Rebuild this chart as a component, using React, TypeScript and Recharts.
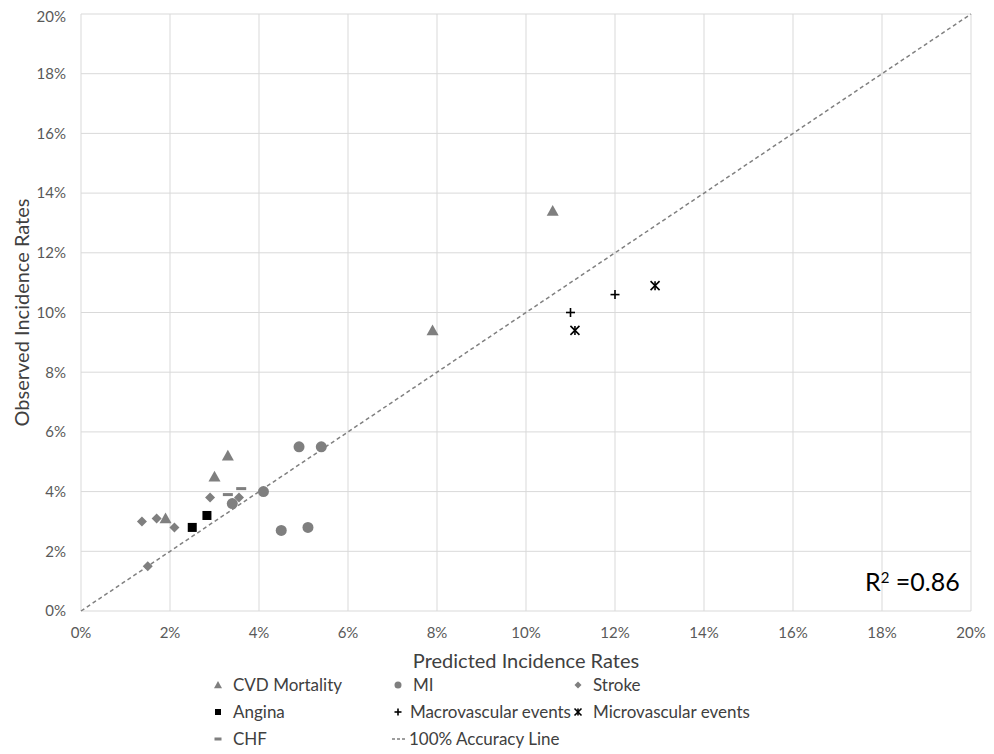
import React from 'react';
import {
  ScatterChart,
  Scatter,
  XAxis,
  YAxis,
  CartesianGrid,
  ReferenceLine,
  Legend,
} from 'recharts';

// values are fractions (0.05 = 5%)
const cvdMortality = [
  { x: 0.106, y: 0.134 },
  { x: 0.079, y: 0.094 },
  { x: 0.033, y: 0.052 },
  { x: 0.030, y: 0.045 },
  { x: 0.019, y: 0.031 },
];
const mi = [
  { x: 0.049, y: 0.055 },
  { x: 0.054, y: 0.055 },
  { x: 0.041, y: 0.040 },
  { x: 0.034, y: 0.036 },
  { x: 0.045, y: 0.027 },
  { x: 0.051, y: 0.028 },
];
const stroke = [
  { x: 0.0137, y: 0.030 },
  { x: 0.017, y: 0.031 },
  { x: 0.021, y: 0.028 },
  { x: 0.029, y: 0.038 },
  { x: 0.0355, y: 0.038 },
  { x: 0.015, y: 0.015 },
];
const angina = [
  { x: 0.025, y: 0.028 },
  { x: 0.0283, y: 0.032 },
];
const chf = [
  { x: 0.033, y: 0.039 },
  { x: 0.036, y: 0.041 },
];
const macrovascular = [
  { x: 0.110, y: 0.100 },
  { x: 0.120, y: 0.106 },
];
const microvascular = [
  { x: 0.111, y: 0.094 },
  { x: 0.129, y: 0.109 },
];
const accuracyLine = [
  { x: 0, y: 0 },
  { x: 0.2, y: 0.2 },
];
const ticks = [0, 0.02, 0.04, 0.06, 0.08, 0.1, 0.12, 0.14, 0.16, 0.18, 0.2];
const rSquared = '0.86';

const GRAY = '#7f7f7f';
const FONT = 'Lato, "Open Sans", sans-serif';

const pct = (v: number) => `${Math.round(v * 100)}%`;

const Triangle = ({ cx, cy, s = 6 }: any) => (
  <polygon points={`${cx},${cy - s} ${cx + s},${cy + s * 0.8} ${cx - s},${cy + s * 0.8}`} fill={GRAY} />
);
const Circle = ({ cx, cy, s = 5.5 }: any) => <circle cx={cx} cy={cy} r={s} fill={GRAY} />;
const Diamond = ({ cx, cy, s = 5 }: any) => (
  <polygon points={`${cx},${cy - s} ${cx + s},${cy} ${cx},${cy + s} ${cx - s},${cy}`} fill={GRAY} />
);
const Square = ({ cx, cy, s = 4.5 }: any) => (
  <rect x={cx - s} y={cy - s} width={s * 2} height={s * 2} fill="#000" />
);
const Plus = ({ cx, cy, s = 4.5 }: any) => (
  <g stroke="#000" strokeWidth={1.6}>
    <line x1={cx - s} y1={cy} x2={cx + s} y2={cy} />
    <line x1={cx} y1={cy - s} x2={cx} y2={cy + s} />
  </g>
);
const Dash = ({ cx, cy, s = 5 }: any) => (
  <rect x={cx - s} y={cy - 1.5} width={s * 2} height={3} fill={GRAY} />
);
const Star = ({ cx, cy, s = 4.5 }: any) => (
  <g stroke="#000" strokeWidth={1.6}>
    <line x1={cx - s} y1={cy - s} x2={cx + s} y2={cy + s} />
    <line x1={cx - s} y1={cy + s} x2={cx + s} y2={cy - s} />
    <line x1={cx} y1={cy - s} x2={cx} y2={cy + s} />
  </g>
);

const legendItems = [
  { name: 'CVD Mortality', Icon: Triangle, s: 4 },
  { name: 'MI', Icon: Circle, s: 3.5 },
  { name: 'Stroke', Icon: Diamond, s: 3.5 },
  { name: 'Angina', Icon: Square, s: 3 },
  { name: 'Macrovascular events', Icon: Plus, s: 3.5 },
  { name: 'Microvascular events', Icon: Star, s: 3.5 },
  { name: 'CHF', Icon: Dash, s: 3.5 },
  { name: 'dashes', label: '100% Accuracy Line', Icon: null, s: 0 },
];

const LegendContent = () => (
  <div
    style={{
      display: 'grid',
      gridTemplateColumns: '180px 180px 240px',
      rowGap: 4,
      paddingLeft: 203,
      fontFamily: FONT,
      fontSize: 17,
      color: '#404040',
      whiteSpace: 'nowrap',
    }}
  >
    {legendItems.map((it) => (
      <div key={it.name} style={{ display: 'flex', alignItems: 'center', height: 23 }}>
        {it.Icon ? (
          <svg width={16} height={14} style={{ marginRight: 6 }}>
            <it.Icon cx={7} cy={7} s={it.s} />
          </svg>
        ) : (
          <svg width={16} height={14} style={{ marginRight: 2 }}>
            <line x1={1} y1={7} x2={16} y2={7} stroke={GRAY} strokeWidth={1.5} strokeDasharray="3 2" />
          </svg>
        )}
        <span>{it.label ?? it.name}</span>
      </div>
    ))}
  </div>
);

export default function App() {
  return (
    <div style={{ position: 'relative', width: 986, height: 746 }}>
      <ScatterChart
        width={986}
        height={746}
        margin={{ top: 6, right: 23, left: 0, bottom: 0 }}
        style={{ fontFamily: FONT }}
      >
        <CartesianGrid stroke="#d9d9d9" strokeWidth={1} />
        <XAxis
          type="number"
          dataKey="x"
          domain={[0, 0.2]}
          ticks={ticks}
          tickFormatter={pct}
          axisLine={false}
          tickLine={false}
          tickMargin={10}
          height={143}
          tick={{ fill: '#595959', fontSize: 15 }}
          label={{
            value: 'Predicted Incidence Rates',
            position: 'insideTop',
            offset: 43,
            fill: '#404040',
            fontSize: 20,
          }}
        />
        <YAxis
          type="number"
          dataKey="y"
          domain={[0, 0.2]}
          ticks={ticks}
          tickFormatter={pct}
          axisLine={false}
          tickLine={false}
          tickMargin={9}
          width={73}
          tick={{ fill: '#595959', fontSize: 15 }}
          label={{
            value: 'Observed Incidence Rates',
            angle: -90,
            position: 'insideLeft',
            offset: 14,
            style: { textAnchor: 'middle' },
            fill: '#404040',
            fontSize: 20,
          }}
        />
        <ReferenceLine
          segment={accuracyLine}
          stroke="#808080"
          strokeWidth={1.5}
          strokeDasharray="4 3"
          ifOverflow="visible"
        />
        <Scatter name="CVD Mortality" data={cvdMortality} shape={<Triangle />} isAnimationActive={false} />
        <Scatter name="MI" data={mi} shape={<Circle />} isAnimationActive={false} />
        <Scatter name="Stroke" data={stroke} shape={<Diamond />} isAnimationActive={false} />
        <Scatter name="Angina" data={angina} shape={<Square />} isAnimationActive={false} />
        <Scatter name="CHF" data={chf} shape={<Dash />} isAnimationActive={false} />
        <Scatter name="Macrovascular events" data={macrovascular} shape={<Plus />} isAnimationActive={false} />
        <Scatter name="Microvascular events" data={microvascular} shape={<Star />} isAnimationActive={false} />
        <Legend
          layout="horizontal"
          verticalAlign="middle"
          align="center"
          wrapperStyle={{ top: 665, left: 0, width: 986 }}
          content={<LegendContent />}
        />
      </ScatterChart>
      <div
        style={{
          position: 'absolute',
          left: 857,
          top: 560,
          fontFamily: FONT,
          fontSize: 25,
          lineHeight: '26px',
          color: '#000',
        }}
      >
        R<sup style={{ fontSize: 15, verticalAlign: 'top', position: 'relative', top: -4 }}>2</sup> ={rSquared}
      </div>
    </div>
  );
}
